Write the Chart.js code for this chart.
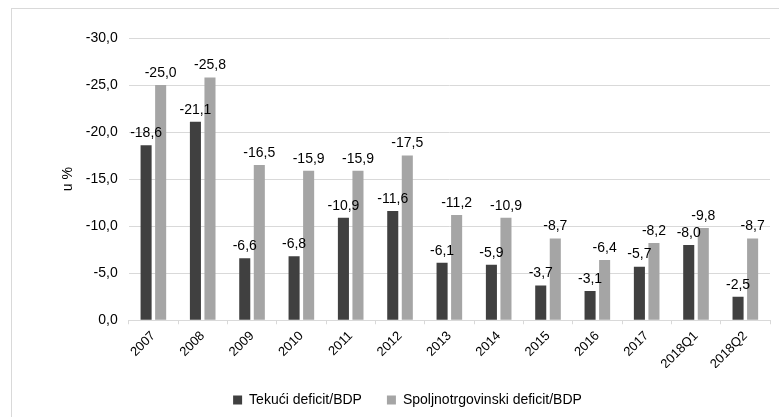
<!DOCTYPE html>
<html>
<head>
<meta charset="utf-8">
<script src="https://cdn.jsdelivr.net/npm/chart.js@4/dist/chart.umd.min.js"></script>
<style>
  html, body { margin: 0; padding: 0; background: #fff; overflow: hidden; }
  #frame {
    position: absolute; left: 11px; top: 8px;
    width: 800px; height: 430px;
    border: 1px solid #d9d9d9; box-sizing: border-box;
  }
  #wrap { position: absolute; left: 0; top: 0; width: 779px; height: 417px; }
</style>
</head>
<body>
<div id="frame"></div>
<div id="wrap"><canvas id="chart"></canvas></div>
<script>
const periods = ["2007", "2008", "2009", "2010", "2011", "2012", "2013", "2014", "2015", "2016", "2017", "2018Q1", "2018Q2"];
const currentDeficit = [-18.6, -21.1, -6.6, -6.8, -10.9, -11.6, -6.1, -5.9, -3.7, -3.1, -5.7, -8.0, -2.5];
const tradeDeficit = [-25.0, -25.8, -16.5, -15.9, -15.9, -17.5, -11.2, -10.9, -8.7, -6.4, -8.2, -9.8, -8.7];

const FONT = "'Liberation Sans', Arial, sans-serif";
const fmt = v => v.toFixed(1).replace(".", ",");

// value labels above each bar
const barLabels = {
  id: "barLabels",
  afterDatasetsDraw(chart) {
    const ctx = chart.ctx;
    ctx.save();
    ctx.font = "14px " + FONT;
    ctx.fillStyle = "#000";
    ctx.textAlign = "center";
    ctx.textBaseline = "bottom";
    chart.data.datasets.forEach((ds, i) => {
      chart.getDatasetMeta(i).data.forEach((bar, j) => {
        ctx.fillText(fmt(ds.data[j]), bar.x, bar.y - 5);
      });
    });
    ctx.restore();
  }
};

new Chart(document.getElementById("chart"), {
  type: "bar",
  data: {
    labels: periods,
    datasets: [
      { label: "Tekući deficit/BDP", data: currentDeficit, backgroundColor: "#404040" },
      { label: "Spoljnotrgovinski deficit/BDP", data: tradeDeficit, backgroundColor: "#a5a5a5" }
    ]
  },
  options: {
    responsive: true,
    maintainAspectRatio: false,
    animation: false,
    datasets: { bar: { categoryPercentage: 0.59, barPercentage: 0.76 } },
    layout: { padding: { left: 45, right: 9, top: 38, bottom: 0 } },
    scales: {
      x: {
        // rotated labels may reach a little into the legend gap
        afterFit: s => { s.height -= 8; },
        grid: { drawOnChartArea: false, drawTicks: true, tickLength: 4, color: "#d9d9d9" },
        border: { color: "#d9d9d9" },
        ticks: {
          color: "#000", minRotation: 45, maxRotation: 45, padding: 4,
          font: { family: FONT, size: 13 }
        }
      },
      y: {
        min: -30, max: 0, reverse: true,
        grid: { color: "#d9d9d9", drawTicks: false },
        border: { display: false },
        ticks: {
          stepSize: 5, padding: 11, color: "#000",
          font: { family: FONT, size: 14 },
          callback: v => fmt(v)
        },
        title: {
          display: true, text: "u %", color: "#000", padding: { top: 15, bottom: 0 },
          font: { family: FONT, size: 14 }
        },
        afterFit: s => { s.width -= 2; }
      }
    },
    plugins: {
      legend: {
        position: "bottom",
        labels: {
          boxWidth: 9, boxHeight: 9, padding: 25, color: "#000",
          font: { family: FONT, size: 14 }
        }
      },
      tooltip: { enabled: false }
    }
  },
  plugins: [barLabels]
});
</script>
</body>
</html>
